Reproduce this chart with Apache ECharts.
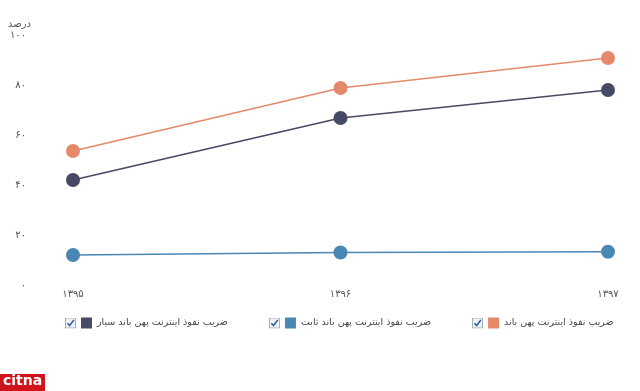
<!DOCTYPE html>
<html><head><meta charset="utf-8">
<script src="https://cdn.jsdelivr.net/npm/echarts@6/dist/echarts.min.js"></script>
<style>html,body{margin:0;padding:0;background:#fff}#c{width:640px;height:391px}</style>
</head><body><div id="c"></div>
<script>
var categories = ['۱۳۹۵', '۱۳۹۶', '۱۳۹۷'];
var yTickLabels = ['۰', '۲۰', '۴۰', '۶۰', '۸۰', '۱۰۰'];
var seriesNames = ['ضریب نفوذ اینترنت پهن باند سیار', 'ضریب نفوذ اینترنت پهن باند ثابت', 'ضریب نفوذ اینترنت پهن باند'];
var mobileValues = [42, 66.8, 78];
var fixedValues = [12, 13, 13.3];
var totalValues = [53.6, 78.8, 90.8];
var yAxisName = 'درصد';
var logoText = 'citna';

var colors = ['#474a65', '#4b87b3', '#e5896a'];
var FONT = 'DejaVu Sans';
var checkSvg = 'image://data:image/svg+xml;utf8,' + encodeURIComponent(
  '<svg xmlns="http://www.w3.org/2000/svg" width="12" height="12" viewBox="0 0 12 12">' +
  '<rect x="0.5" y="0.5" width="11" height="11" fill="#eef1f6" stroke="#9aa3b0"/>' +
  '<path d="M2.6 6.2 L5 8.8 L9.6 2.8" fill="none" stroke="#2f5f9e" stroke-width="1.6"/></svg>');

var chart = echarts.init(document.getElementById('c'));
var rich = {t: {fontFamily: FONT, fontSize: 9.5, color: '#444', padding: [0, 0, 0, 5]}};
colors.forEach(function (c, i) { rich['s' + i] = {width: 11, height: 11, backgroundColor: c}; });

chart.setOption({
  animation: false,
  grid: {left: 73, right: 32, top: 35, bottom: 106},
  legend: {
    left: 60, top: 312, width: 590, itemGap: 41, itemWidth: 11, itemHeight: 11,
    icon: checkSvg,
    data: seriesNames,
    formatter: function (name) {
      var i = seriesNames.indexOf(name);
      return '{s' + i + '|}{t|' + name + '}';
    },
    textStyle: {rich: rich, padding: [0, 0, 0, 0]}
  },
  xAxis: {
    type: 'category', boundaryGap: false, data: categories,
    axisLine: {show: false}, axisTick: {show: false},
    axisLabel: {fontFamily: FONT, fontSize: 10, color: '#555', margin: 4}
  },
  yAxis: {
    type: 'value', min: 0, max: 100, interval: 20,
    name: yAxisName, nameLocation: 'end', nameGap: 6,
    nameTextStyle: {fontFamily: FONT, fontSize: 10, color: '#555', align: 'right', padding: [0, 42, 0, 0]},
    axisLine: {show: false}, axisTick: {show: false}, splitLine: {show: false},
    axisLabel: {
      fontFamily: FONT, fontSize: 10, color: '#555', margin: 47, align: 'right',
      formatter: function (v) { return yTickLabels[Math.round(v / 20)]; }
    }
  },
  series: [
    {name: seriesNames[0], type: 'line', data: mobileValues, color: colors[0], symbol: 'circle', symbolSize: 14, lineStyle: {width: 1.6}},
    {name: seriesNames[1], type: 'line', data: fixedValues, color: colors[1], symbol: 'circle', symbolSize: 14, lineStyle: {width: 1.6}},
    {name: seriesNames[2], type: 'line', data: totalValues, color: colors[2], symbol: 'circle', symbolSize: 14, lineStyle: {width: 1.6}}
  ],
  graphic: [
    {type: 'rect', left: 0, top: 374, shape: {width: 45, height: 17}, style: {fill: '#d0141c'}},
    {type: 'text', left: 3, top: 374, style: {text: logoText, fill: '#fff', font: 'bold 14px "DejaVu Sans"'}}
  ]
});
</script></body></html>
